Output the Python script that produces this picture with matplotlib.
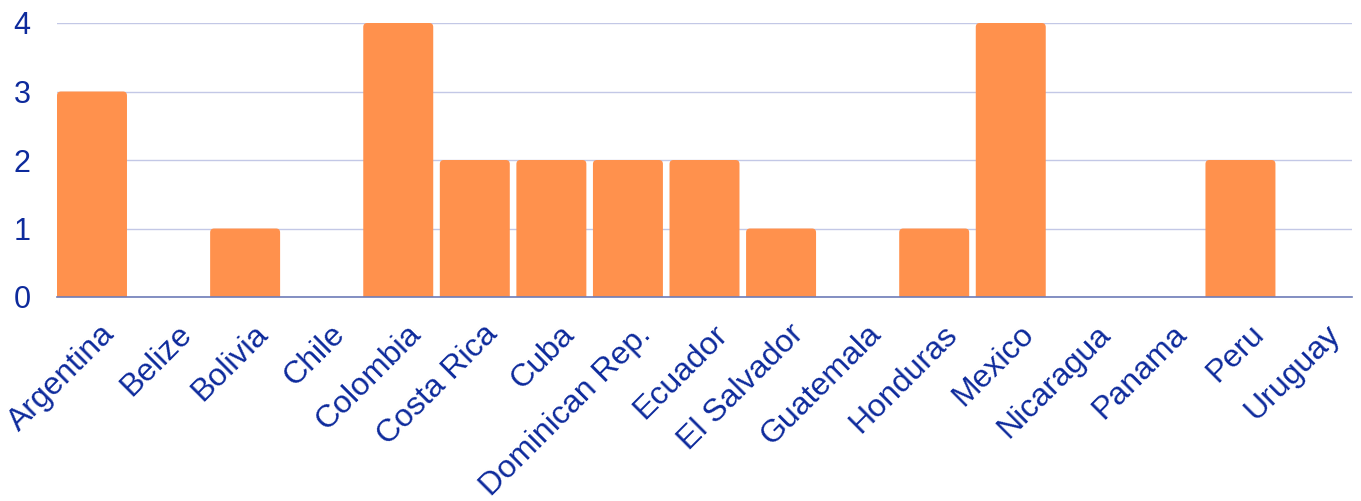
import matplotlib
matplotlib.use("Agg")
import matplotlib.pyplot as plt
from matplotlib.patches import FancyBboxPatch
import matplotlib.transforms as mtransforms

categories = ["Argentina", "Belize", "Bolivia", "Chile", "Colombia", "Costa Rica",
              "Cuba", "Dominican Rep.", "Ecuador", "El Salvador", "Guatemala",
              "Honduras", "Mexico", "Nicaragua", "Panama", "Peru", "Uruguay"]
values = [3, 0, 1, 0, 4, 2, 2, 2, 2, 1, 0, 1, 4, 0, 0, 2, 0]
yticks = [0, 1, 2, 3, 4]

plt.rcParams['font.family'] = ['Liberation Sans', 'DejaVu Sans']
text_color = '#0d2a9c'
bar_color = '#ff914d'

fig = plt.figure(figsize=(13.61, 5.01), dpi=100)
W, H = 1361, 501
ax = fig.add_axes([57 / W, (H - 297) / H, (1352 - 57) / W, (297 - 23) / H])

bw = 0.914
ax.set_xlim(-0.457, len(categories) - 1 + 0.457)
ax.set_ylim(0, 4)

# pixel scales for rounding
px_x = (1352 - 57) / (len(categories) - 1 + 0.914)
px_y = (297 - 23) / 4.0
r_px = 4.0
r_x = r_px / px_x
aspect = (r_px / px_y) / r_x
for i, v in enumerate(values):
    if v <= 0:
        continue
    p = FancyBboxPatch((i - bw / 2, -0.2), bw, v + 0.2,
                       boxstyle=f"round,pad=0,rounding_size={r_x}",
                       mutation_aspect=aspect,
                       facecolor=bar_color, edgecolor='none', zorder=2)
    ax.add_patch(p)

ax.set_yticks(yticks)
ax.set_yticklabels([str(t) for t in yticks])
ax.grid(axis='y', color='#c3c8e6', linewidth=1.0, zorder=0)
ax.set_axisbelow(True)
for s in ['top', 'right', 'left']:
    ax.spines[s].set_visible(False)
ax.spines['bottom'].set_color('#6e7db8')
ax.spines['bottom'].set_linewidth(1.2)
ax.spines['bottom'].set_zorder(3)

ax.tick_params(axis='y', length=0, labelsize=22, labelcolor=text_color, pad=19)
ax.tick_params(axis='x', length=0, labelsize=23, labelcolor=text_color, pad=16)
ax.set_xticks(range(len(categories)))
ax.set_xticklabels(categories, rotation=45, ha='right', va='top',
                   rotation_mode='anchor')
offset = mtransforms.ScaledTranslation(8 / 100, 0, fig.dpi_scale_trans)
for lbl in ax.get_xticklabels():
    lbl.set_transform(lbl.get_transform() + offset)

fig.savefig("out.png", dpi=100)
